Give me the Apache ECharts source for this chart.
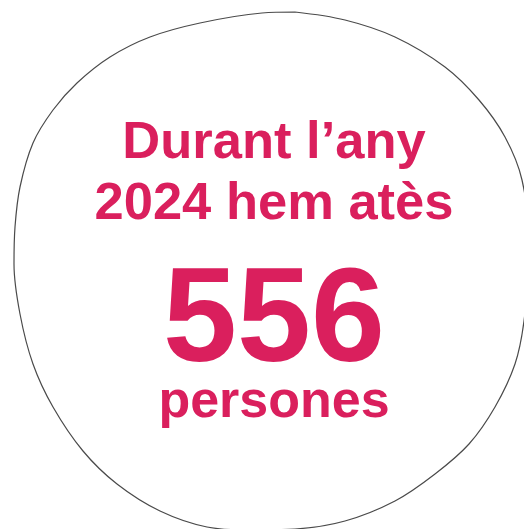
<!DOCTYPE html>
<html>
<head>
<meta charset="utf-8">
<script src="https://cdn.jsdelivr.net/npm/echarts@6/dist/echarts.min.js"></script>
<style>html,body{margin:0;padding:0;background:#fff}#c{width:524px;height:529px}</style>
</head>
<body>
<div id="c"></div>
<script>
// Outline of the blob (picture coordinates)
var outlineX = [295,345,395,445,479,505,522,530,524,515,495,469,435,395,345,295,250,207,160,117,83,53,33,20,14,15,20,33,53,77,110,150,200,262,295];
var outlineY = [12,20,37,67,100,137,180,250,321,364,407,444,474,501,521,529,530,527,511,484,451,407,364,314,264,227,187,143,110,83,57,37,23,13,12];
// Texts
var headlineLines = ['Durant l\u2019any', '2024 hem at\u00e8s'];
var totalPersons = [556];
var unitLabel = ['persones'];

var pink = '#DA1F5D';
var font = '"Liberation Sans", Arial, Helvetica, sans-serif';

var outline = outlineX.map(function (x, i) { return [x, outlineY[i]]; });

var chart = echarts.init(document.getElementById('c'), null, {renderer: 'canvas'});
chart.setOption({
  animation: false,
  backgroundColor: '#ffffff',
  grid: {left: 0, right: 0, top: 0, bottom: 0},
  xAxis: {type: 'value', min: 0, max: 524, show: false},
  yAxis: {type: 'value', min: 0, max: 529, inverse: true, show: false},
  series: [{
    type: 'line',
    data: outline,
    smooth: 0.35,
    symbol: 'none',
    clip: false,
    lineStyle: {color: '#4a4a4a', width: 1.2}
  }],
  graphic: [
    {type: 'text', x: 274, y: 144, style: {text: headlineLines[0], fill: pink, font: 'bold 52.5px ' + font, textAlign: 'center', textVerticalAlign: 'middle'}},
    {type: 'text', x: 274, y: 205, style: {text: headlineLines[1], fill: pink, font: 'bold 52.5px ' + font, textAlign: 'center', textVerticalAlign: 'middle'}},
    {type: 'text', x: 274, y: 324, style: {text: String(totalPersons[0]), fill: pink, font: 'bold 133px ' + font, textAlign: 'center', textVerticalAlign: 'middle'}},
    {type: 'text', x: 274, y: 403, style: {text: unitLabel[0], fill: pink, font: 'bold 52px ' + font, textAlign: 'center', textVerticalAlign: 'middle'}}
  ]
});
</script>
</body>
</html>
